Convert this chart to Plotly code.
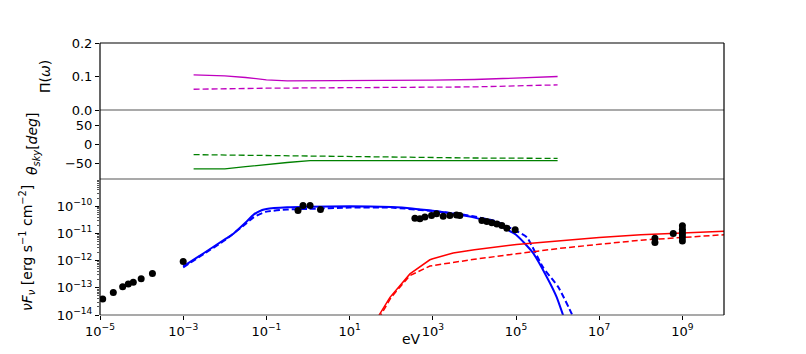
import numpy as np
import plotly.graph_objects as go
from plotly.subplots import make_subplots

# ---------------- data (log10 eV for x, log10 flux for spectra) ----------------
pol_logx = [-2.75, -2.0, -1.5, -1.0, -0.5, 0.0, 1.0, 2.0, 3.0, 4.0, 5.0, 6.0]
pol_solid = [0.105, 0.102, 0.097, 0.090, 0.087, 0.087, 0.087, 0.088, 0.089, 0.091, 0.095, 0.100]
pol_dashed = [0.062, 0.064, 0.0645, 0.065, 0.0655, 0.066, 0.066, 0.067, 0.067, 0.069, 0.072, 0.075]

ang_logx = [-2.75, -2.0, -1.5, -0.84, -0.5, 0.05, 1.0, 2.0, 3.0, 4.0, 5.0, 6.0]
ang_solid = [-65, -65, -59, -51, -48, -43, -43, -43, -43, -43, -43, -43]
ang_dashed = [-27, -28, -30, -31, -31.5, -32, -33, -34, -35, -36, -36.5, -37]

blue_logx = [-3.0, -2.5, -2.0, -1.8, -1.5, -1.3, -1.1, -1.0, -0.5, 0.0, 1.0, 2.0, 2.5, 3.0,
             3.5, 4.0, 4.5, 5.0, 5.4, 5.74, 5.98, 6.13, 6.2]
blue_solid = [-12.21, -11.72, -11.22, -11.02, -10.6, -10.3, -10.14, -10.1, -10.04, -10.02, -10.0,
              -10.03, -10.08, -10.17, -10.28, -10.42, -10.65, -11.05, -11.7, -12.6, -13.35, -14.0, -14.3]
blued_logx = [-3.0, -2.5, -2.0, -1.5, -1.3, -1.0, -0.5, 0.0, 1.0, 2.0, 3.0, 3.5, 4.0, 4.5, 5.0,
              5.26, 5.65, 6.02, 6.34, 6.4]
blue_dashed = [-12.25, -11.75, -11.25, -10.65, -10.4, -10.2, -10.12, -10.1, -10.05, -10.05, -10.18,
               -10.26, -10.38, -10.55, -10.9, -11.14, -12.25, -12.98, -13.96, -14.2]

red_logx = [1.68, 1.71, 1.97, 2.45, 2.93, 3.0, 3.49, 4.0, 5.01, 6.06, 7.0, 8.0, 9.0, 10.0]
red_solid = [-14.15, -14.0, -13.35, -12.49, -11.97, -11.93, -11.72, -11.6, -11.41, -11.27, -11.15,
             -11.05, -10.98, -10.92]
redd_logx = [1.72, 1.75, 2.0, 2.45, 2.93, 3.49, 4.0, 5.01, 6.06, 7.0, 8.0, 9.0, 10.0]
red_dashed = [-14.15, -14.0, -13.35, -12.55, -12.2, -12.06, -11.95, -11.75, -11.55, -11.4, -11.25,
              -11.15, -11.05]

data_logx = [-4.935, -4.68, -4.455, -4.32, -4.20, -4.01, -3.74, -3.0,
             -0.24, -0.12, 0.05, 0.30,
             2.57, 2.69, 2.81, 2.97, 3.09, 3.25, 3.41, 3.57, 3.65,
             4.18, 4.30, 4.42, 4.54, 4.66, 4.78, 4.98,
             8.34, 8.34, 8.78, 9.0, 9.0, 9.0, 9.0, 9.0, 9.0]
data_logy = [-13.41, -13.17, -12.96, -12.86, -12.80, -12.67, -12.47, -12.03,
             -10.16, -9.97, -9.97, -10.12,
             -10.44, -10.46, -10.40, -10.34, -10.28, -10.37, -10.34, -10.32, -10.34,
             -10.53, -10.56, -10.61, -10.65, -10.71, -10.81, -10.87,
             -11.18, -11.33, -11.0, -10.72, -10.85, -10.95, -11.05, -11.15, -11.28]

x_tick_exps = [-5, -3, -1, 1, 3, 5, 7, 9]
y_tick_exps = [-14, -13, -12, -11, -10]

# ---------------- figure ----------------
OFF = 8  # page body margin
W, H = 806 - 2 * OFF, 354 - 2 * OFF
def px_x(p): return (p - OFF) / W
def px_y(p): return 1 - (p - OFF) / H

L, R = 100, 724
T1, B1 = 43, 110
B2 = 179
B3 = 315

fig = make_subplots(rows=3, cols=1, shared_xaxes=True, vertical_spacing=0)

p10 = lambda a: [10 ** v for v in a]

MAG, GRN, BLU, RED = "#bf00bf", "#008000", "#0000ff", "#ff0000"

fig.add_trace(go.Scatter(x=p10(pol_logx), y=pol_solid, mode="lines", line=dict(color=MAG, width=1.3)), 1, 1)
fig.add_trace(go.Scatter(x=p10(pol_logx), y=pol_dashed, mode="lines", line=dict(color=MAG, width=1.3, dash="6px,3px")), 1, 1)

fig.add_trace(go.Scatter(x=p10(ang_logx), y=ang_solid, mode="lines", line=dict(color=GRN, width=1.3)), 2, 1)
fig.add_trace(go.Scatter(x=p10(ang_logx), y=ang_dashed, mode="lines", line=dict(color=GRN, width=1.3, dash="6px,3px")), 2, 1)

fig.add_trace(go.Scatter(x=p10(blue_logx), y=p10(blue_solid), mode="lines", line=dict(color=BLU, width=2, shape="spline", smoothing=0.5)), 3, 1)
fig.add_trace(go.Scatter(x=p10(blued_logx), y=p10(blue_dashed), mode="lines", line=dict(color=BLU, width=2, dash="6px,3px", shape="spline", smoothing=0.5)), 3, 1)
fig.add_trace(go.Scatter(x=p10(red_logx), y=p10(red_solid), mode="lines", line=dict(color=RED, width=1.5)), 3, 1)
fig.add_trace(go.Scatter(x=p10(redd_logx), y=p10(red_dashed), mode="lines", line=dict(color=RED, width=1.5, dash="6px,3px")), 3, 1)
fig.add_trace(go.Scatter(x=p10(data_logx), y=p10(data_logy), mode="markers",
                         marker=dict(color="black", size=7, line=dict(width=0))), 3, 1)

font = "DejaVu Sans"
tickfont = dict(family=font, size=13, color="black")

xdom = [px_x(L), px_x(R)]
for i in (1, 2, 3):
    fig.update_xaxes(row=i, col=1, type="log", range=[-5, 10], domain=xdom, automargin=False,
                     showgrid=False, zeroline=False, showline=False,
                     ticks="", showticklabels=False)
fig.update_xaxes(row=3, col=1, ticks="outside", ticklen=4, tickcolor="black",
                 showticklabels=True, tickmode="array",
                 tickvals=[10 ** e for e in x_tick_exps],
                 ticktext=["10<sup>%s</sup>" % (str(e).replace("-", "−")) for e in x_tick_exps],
                 tickfont=tickfont)

fig.update_yaxes(row=1, col=1, domain=[px_y(B1), px_y(T1)], range=[0, 0.2], automargin=False,
                 tickmode="array", tickvals=[0, 0.1, 0.2], ticktext=["0.0", "0.1", "0.2"],
                 ticks="outside", ticklen=4, tickcolor="black", showgrid=False, zeroline=False,
                 showline=False, tickfont=tickfont)
fig.update_yaxes(row=2, col=1, domain=[px_y(B2), px_y(B1)], range=[-92, 92], automargin=False,
                 tickmode="array", tickvals=[-50, 0, 50], ticktext=["−50", "0", "50"],
                 ticks="outside", ticklen=4, tickcolor="black", showgrid=False, zeroline=False,
                 showline=False, tickfont=tickfont)
minor_vals = [m * 10 ** e for e in range(-14, -9) for m in range(2, 10)]
fig.update_yaxes(row=3, col=1, domain=[px_y(B3), px_y(B2)], type="log", range=[-14, -9], automargin=False,
                 tickmode="array", tickvals=[10 ** e for e in y_tick_exps],
                 ticktext=["10<sup>%s</sup>" % (str(e).replace("-", "−")) for e in y_tick_exps],
                 ticks="outside", ticklen=4, tickcolor="black", showgrid=False, zeroline=False,
                 showline=False, tickfont=tickfont,
                 minor=dict(tickmode="array", tickvals=minor_vals, ticks="outside", ticklen=2,
                            tickcolor="#555555", showgrid=False))

shapes = []
def line(x0, y0, x1, y1, color, w=1.2):
    shapes.append(dict(type="line", xref="paper", yref="paper", x0=x0, y0=y0, x1=x1, y1=y1,
                       line=dict(color=color, width=w)))
line(px_x(L), px_y(T1), px_x(R), px_y(T1), "black")
line(px_x(L), px_y(B1), px_x(R), px_y(B1), "#555555")
line(px_x(L), px_y(B2), px_x(R), px_y(B2), "#555555")
line(px_x(L), px_y(B3), px_x(R), px_y(B3), "#555555")
line(px_x(L), px_y(B3), px_x(L), px_y(T1), "black")
line(px_x(R), px_y(B3), px_x(R), px_y(T1), "black")

ann = [
    dict(text="Π(<i>ω</i>)", x=px_x(45), y=px_y(77), textangle=-90),
    dict(text="<i>θ<sub>sky</sub></i>[<i>deg</i>]", x=px_x(33), y=px_y(144), textangle=-90),
    dict(text="<i>νF<sub>ν</sub></i> [erg s<sup>−1</sup> cm<sup>−2</sup>]", x=px_x(27), y=px_y(248), textangle=-90),
    dict(text="eV", x=px_x(412), y=px_y(339), textangle=0),
]
annotations = [dict(a, xref="paper", yref="paper", showarrow=False, xanchor="center", yanchor="middle",
                    font=dict(family=font, size=14, color="black")) for a in ann]

fig.update_layout(width=W, height=H, margin=dict(l=0, r=0, t=0, b=0, autoexpand=False),
                  paper_bgcolor="white", plot_bgcolor="white", showlegend=False,
                  shapes=shapes, annotations=annotations, font=dict(family=font))

fig.write_html("out.html")
